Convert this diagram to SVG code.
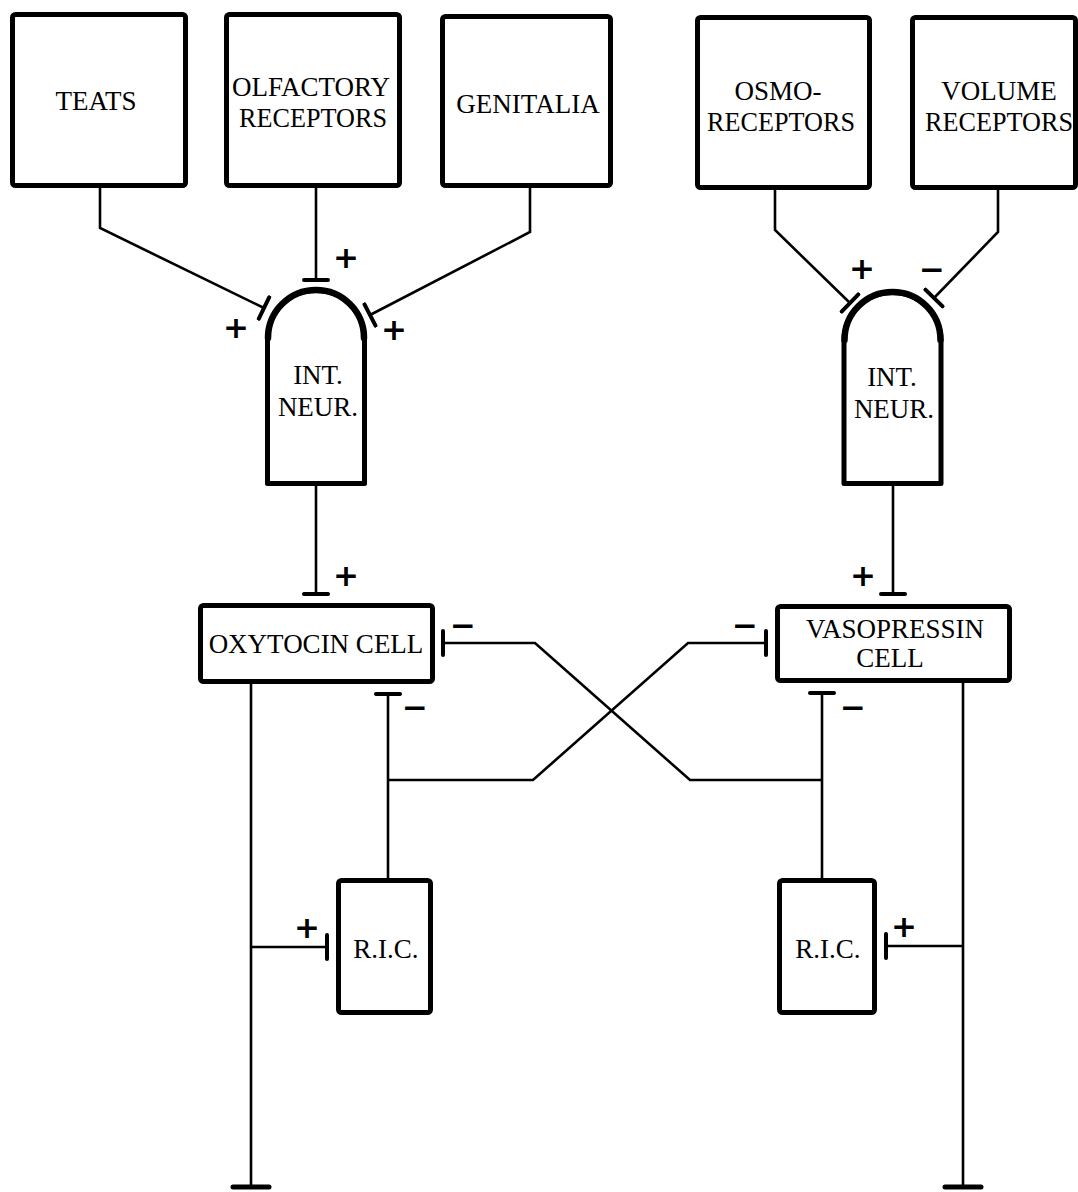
<svg xmlns="http://www.w3.org/2000/svg" width="1078" height="1192" viewBox="0 0 1078 1192">
<style>
.box{fill:#fff;stroke:#000;stroke-width:5;stroke-linejoin:round}
.dome{fill:none;stroke:#000;stroke-width:6.5;stroke-linecap:round}
.lbl{font-family:"Liberation Serif","Times New Roman",serif;font-size:27px;fill:#000;text-anchor:middle}
.sgn{font-family:"DejaVu Sans",sans-serif;font-weight:bold;font-size:31px;fill:#000;text-anchor:middle}
.con{fill:none;stroke:#000;stroke-width:2.6;stroke-linejoin:miter}
</style>
<defs>
<marker id="bar" markerUnits="userSpaceOnUse" viewBox="-4 -14 8 28" markerWidth="8" markerHeight="28" refX="0" refY="0" orient="auto">
<path d="M0,-12V12" stroke="#000" stroke-width="4" stroke-linecap="round"/>
</marker>
<marker id="barw" markerUnits="userSpaceOnUse" viewBox="-4 -22 8 44" markerWidth="8" markerHeight="44" refX="0" refY="0" orient="auto">
<path d="M0,-18V18" stroke="#000" stroke-width="5" stroke-linecap="round"/>
</marker>
</defs>
<rect width="1078" height="1192" fill="#fff"/>
<g id="connectors">
<path class="con" d="M100,188V228L264,308" marker-end="url(#bar)"/>
<path class="con" d="M316,188V280" marker-end="url(#bar)"/>
<path class="con" d="M530,188V232L370,315" marker-end="url(#bar)"/>
<path class="con" d="M775,190V230L850,303" marker-end="url(#bar)"/>
<path class="con" d="M998,190V232L934,298" marker-end="url(#bar)"/>
<path class="con" d="M316,486V594" marker-end="url(#bar)"/>
<path class="con" d="M893,486V594" marker-end="url(#bar)"/>
<path class="con" d="M822,878V693" marker-end="url(#bar)"/>
<path class="con" d="M822,780H690L535,643H443" marker-end="url(#bar)"/>
<path class="con" d="M388,878V694" marker-end="url(#bar)"/>
<path class="con" d="M388,780H533L688,643H766" marker-end="url(#bar)"/>
<path class="con" d="M251,684V1187" marker-end="url(#barw)"/>
<path class="con" d="M251,947H327" marker-end="url(#bar)"/>
<path class="con" d="M963,683V1187" marker-end="url(#barw)"/>
<path class="con" d="M963,946H886" marker-end="url(#bar)"/>
</g>
<g id="teats"><rect class="box" x="12.5" y="14.5" width="173" height="171" rx="3"/><text class="lbl" x="96" y="110">TEATS</text></g>
<g id="olfactory"><rect class="box" x="226.5" y="14.5" width="173" height="171" rx="3"/><text class="lbl" x="311" y="96">OLFACTORY</text><text class="lbl" x="313" y="127" textLength="148" lengthAdjust="spacingAndGlyphs">RECEPTORS</text></g>
<g id="genitalia"><rect class="box" x="442.5" y="16.5" width="168" height="169" rx="3"/><text class="lbl" x="528" y="113">GENITALIA</text></g>
<g id="osmo"><rect class="box" x="697.5" y="17.5" width="172" height="170" rx="3"/><text class="lbl" x="778" y="100">OSMO-</text><text class="lbl" x="781" y="131" textLength="148" lengthAdjust="spacingAndGlyphs">RECEPTORS</text></g>
<g id="volume"><rect class="box" x="912.5" y="17.5" width="163" height="170" rx="3"/><text class="lbl" x="999" y="100">VOLUME</text><text class="lbl" x="999" y="131" textLength="148" lengthAdjust="spacingAndGlyphs">RECEPTORS</text></g>
<g id="intneur-left"><path class="box" d="M267.5,339A48.5,48.5 0 0 1 364.5,339V483.5H267.5Z"/><path class="dome" d="M268,338A48,48 0 0 1 364,338"/><text class="lbl" x="318" y="384">INT.</text><text class="lbl" x="318" y="416">NEUR.</text></g>
<g id="intneur-right"><path class="box" d="M844,341A48.5,48.5 0 0 1 941,341V483.5H844Z"/><path class="dome" d="M844.5,340A48,48 0 0 1 940.5,340"/><text class="lbl" x="892" y="386">INT.</text><text class="lbl" x="894" y="418">NEUR.</text></g>
<g id="oxytocin"><rect class="box" x="200.5" y="605.5" width="232" height="76" rx="3"/><text class="lbl" x="316" y="653">OXYTOCIN CELL</text></g>
<g id="vasopressin"><rect class="box" x="777.5" y="606.5" width="232" height="74" rx="3"/><text class="lbl" x="895" y="638">VASOPRESSIN</text><text class="lbl" x="890" y="667">CELL</text></g>
<g id="ric-left"><rect class="box" x="338.5" y="880.5" width="92" height="132" rx="3"/><text class="lbl" x="386" y="958">R.I.C.</text></g>
<g id="ric-right"><rect class="box" x="779.5" y="880.5" width="95" height="132" rx="3"/><text class="lbl" x="828" y="958">R.I.C.</text></g>
<g id="signs">
<text class="sgn" x="346" y="268">+</text>
<text class="sgn" x="236" y="338">+</text>
<text class="sgn" x="394" y="340">+</text>
<text class="sgn" x="862" y="279">+</text>
<text class="sgn" x="932" y="280">−</text>
<text class="sgn" x="346" y="586">+</text>
<text class="sgn" x="863" y="586">+</text>
<text class="sgn" x="463" y="636">−</text>
<text class="sgn" x="745" y="636">−</text>
<text class="sgn" x="415" y="718">−</text>
<text class="sgn" x="853" y="718">−</text>
<text class="sgn" x="307" y="938">+</text>
<text class="sgn" x="904" y="937">+</text>
</g>
</svg>
